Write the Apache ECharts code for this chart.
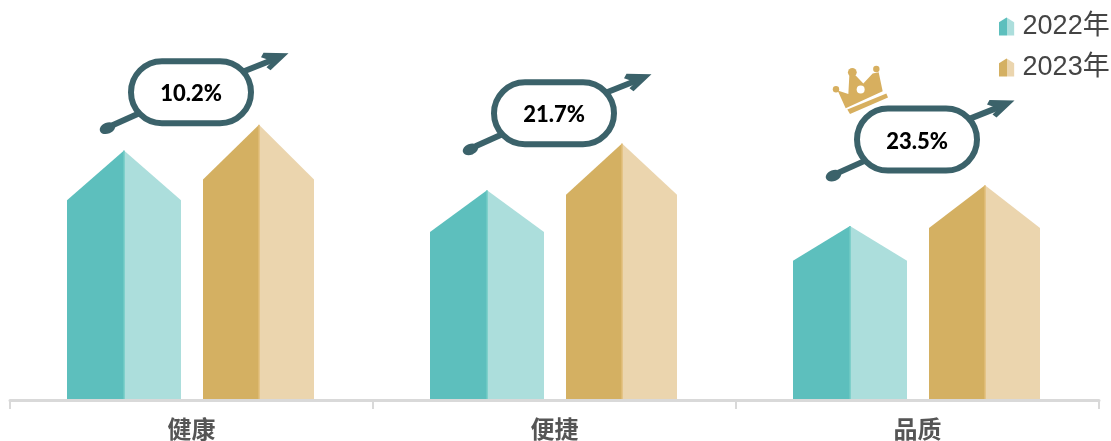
<!DOCTYPE html>
<html><head><meta charset="utf-8">
<style>html,body{margin:0;padding:0;background:#fff}#c{width:1111px;height:441px}</style>
<script src="https://cdn.jsdelivr.net/npm/echarts@6/dist/echarts.min.js"></script>
</head><body><div id="c"></div>
<script>
const categories = ['健康', '便捷', '品质'];
const seriesNames = ['2022年', '2023年'];
const values2022 = [50.0, 42.0, 34.8];
const values2023 = [55.2, 51.4, 43.0];
const growthLabels = ['10.2%', '21.7%', '23.5%'];
const calloutLevels = [61.75, 57.5, 52.2];
const crownIndex = 2;

const chart = echarts.init(document.getElementById('c'), null, {renderer: 'canvas'});
const INK = '#3B626A', GOLD = '#D7AF5F';
const housePath = 'path://M0 5L8 0L16 5L16 19L0 19Z';
const twoTone = (a, b) => new echarts.graphic.LinearGradient(0, 0, 1, 0, [
  {offset: 0, color: a}, {offset: 0.5, color: a}, {offset: 0.5, color: b}, {offset: 1, color: b}]);
const LIFT = 1;

function houseSeries(name, values, offs, dark, light, seam) {
  return {
    type: 'custom', name, coordinateSystem: 'cartesian2d',
    itemStyle: {color: twoTone(dark, light)},
    silent: true,
    encode: {x: 0, y: 1},
    data: values.map((v, i) => [i, v]),
    renderItem(params, api) {
      const top = api.coord([api.value(0), api.value(1)]);
      const base = api.coord([api.value(0), 0]);
      const shoulder = top[1] + (base[1] - top[1]) * 0.2 - LIFT;
      const T = top[1] - LIFT, B = base[1] - LIFT;
      const L = top[0] + offs[0], M = top[0] + offs[1], R = top[0] + offs[2];
      return {type: 'group', children: [
        {type: 'polygon', shape: {points: [[M, T], [R, shoulder], [R, B], [M, B]]}, style: {fill: light}},
        {type: 'polygon', shape: {points: [[L, shoulder], [M, T], [M, B], [L, B]]}, style: {fill: dark}},
        {type: 'line', shape: {x1: M, y1: T, x2: M, y2: B}, style: {stroke: seam, lineWidth: 1.5}}
      ]};
    }
  };
}

const crownParts = (x0, y0) => {
  const p = (x, y) => [x0 + x / 3, y0 + y / 3];
  const out = [];
  out.push({type: 'polygon', shape: {points: [[38,93],[70,103],[73,48],[92,48],[115,72],[143,42],[161,38],[173,95],[62,146]].map(a => p(a[0], a[1]))}, style: {fill: GOLD}});
  out.push({type: 'polygon', shape: {points: [[67,150],[184,102],[189,114],[75,163]].map(a => p(a[0], a[1]))}, style: {fill: GOLD}});
  [[33,89,3.2],[82,38,4.4],[154,28,3.2]].forEach(b => {
    const c = p(b[0], b[1]);
    out.push({type: 'circle', shape: {cx: c[0], cy: c[1], r: b[2]}, style: {fill: GOLD}});
  });
  const h = p(107, 90);
  out.push({type: 'circle', shape: {cx: h[0], cy: h[1], r: 4}, style: {fill: '#fff'}});
  return out;
};

const calloutSeries = {
  type: 'custom', name: 'callout', silent: true, z: 5,
  encode: {x: 0, y: 1},
  data: calloutLevels.map((v, i) => [i, v]),
  renderItem(params, api) {
    const i = api.value(0);
    const c = api.coord([i, api.value(1)]);
    const cx = c[0], cy = c[1] - LIFT;
    const P = (x, y) => [cx + x, cy + y];
    const kids = [
      {type: 'line', shape: {x1: cx + 50, y1: cy - 20, x2: cx + 84, y2: cy - 33.5}, style: {stroke: INK, lineWidth: 6}},
      {type: 'polygon', shape: {points: [[97,-39],[72,-39.5],[69.5,-35],[81,-31],[75,-25],[79,-22]].map(a => P(a[0], a[1]))}, style: {fill: INK}},
      {type: 'line', shape: {x1: cx - 50, y1: cy + 20, x2: cx - 79, y2: cy + 33}, style: {stroke: INK, lineWidth: 6}},
      {type: 'ellipse', shape: {cx: cx - 84, cy: cy + 36, rx: 8, ry: 5.5}, rotation: 0.38, originX: cx - 84, originY: cy + 36, style: {fill: INK}},
      {type: 'rect', shape: {x: cx - 60.5, y: cy - 31, width: 120, height: 62, r: 31}, style: {fill: '#fff', stroke: INK, lineWidth: 6}},
      {type: 'text', style: {x: cx - 0.5, y: cy + 2, text: growthLabels[i], fill: '#000', font: '900 22px Lato, "Open Sans", sans-serif', align: 'center', verticalAlign: 'middle'}}
    ];
    if (i === crownIndex) kids.push(...crownParts(cx + 825 - 917.5, cy + 60 - 140));
    return {type: 'group', children: kids};
  }
};

chart.setOption({
  animation: false,
  backgroundColor: '#fff',
  grid: {left: 10, right: 12, top: 0, bottom: 40, containLabel: false},
  legend: {
    orient: 'vertical', left: 999, top: 12, padding: 0, itemGap: 12,
    itemWidth: 16, itemHeight: 18, selectedMode: false,
    icon: housePath,
    data: seriesNames,
    textStyle: {color: '#444', fontSize: 27, fontFamily: '"Liberation Sans", "Noto Sans CJK SC", sans-serif', padding: [0, 0, 0, 3], lineHeight: 29}
  },
  xAxis: {
    type: 'category', data: categories,
    axisLine: {show: true, lineStyle: {color: '#D9D9D9', width: 3}},
    axisTick: {show: true, alignWithLabel: false, length: 9, lineStyle: {color: '#D9D9D9', width: 2}},
    axisLabel: {color: '#555', fontSize: 24, fontWeight: 'bold', margin: 17, fontFamily: '"Noto Sans CJK SC", sans-serif'}
  },
  yAxis: {type: 'value', min: 0, max: 80.5, show: false, splitLine: {show: false}},
  series: [
    houseSeries(seriesNames[0], values2022, [-124.5, -67.5, -10.5], '#5DBFBD', '#ACDEDC', '#72CBC6'),
    houseSeries(seriesNames[1], values2023, [11.5, 67.5, 122.5], '#D4B062', '#EBD5AE', '#E2BE7A'),
    calloutSeries
  ]
});
</script></body></html>
